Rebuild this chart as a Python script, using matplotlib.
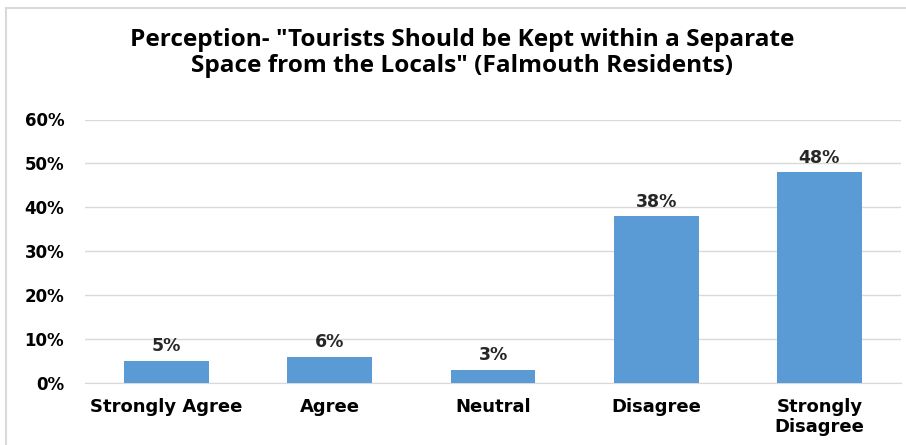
import matplotlib
matplotlib.use("Agg")
import matplotlib.pyplot as plt
from matplotlib.lines import Line2D
from matplotlib.ticker import FuncFormatter, MultipleLocator

categories = ["Strongly Agree", "Agree", "Neutral", "Disagree", "Strongly\nDisagree"]
values = [5, 6, 3, 38, 48]
title = 'Perception- "Tourists Should be Kept within a Separate\nSpace from the Locals" (Falmouth Residents)'

W, H = 906, 445
fig = plt.figure(figsize=(W / 100, H / 100), dpi=100)
fig.patch.set_facecolor("white")

# chart frame (left and top edges visible)
fig.add_artist(Line2D([6 / W, 6 / W], [0, 1 - 8 / H], transform=fig.transFigure,
                      color="#d9d9d9", lw=1.5))
fig.add_artist(Line2D([6 / W, 1.01], [1 - 8 / H, 1 - 8 / H], transform=fig.transFigure,
                      color="#d9d9d9", lw=1.5))

left, right = 85 / W, 901 / W
bottom, top = 1 - 383 / H, 1 - 119.5 / H
ax = fig.add_axes([left, bottom, right - left, top - bottom])

x = range(len(categories))
bars = ax.bar(x, values, width=0.52, color="#5b9bd5", zorder=3)
ax.set_xlim(-0.5, len(categories) - 0.5)
ax.set_ylim(0, 60)
ax.yaxis.set_major_locator(MultipleLocator(10))
ax.yaxis.set_major_formatter(FuncFormatter(lambda v, p: f"{int(v)}%"))
ax.grid(axis="y", color="#d9d9d9", lw=1, zorder=0)
for s in ax.spines.values():
    s.set_visible(False)
ax.spines["bottom"].set_visible(True)
ax.spines["bottom"].set_color("#d9d9d9")
ax.tick_params(axis="both", length=0)
ax.tick_params(axis="y", pad=15)
ax.tick_params(axis="x", pad=11)
ax.set_xticks(list(x))
ax.set_xticklabels(categories, fontsize=13, fontweight="bold", family="DejaVu Sans",
                   linespacing=1.15)
for lab in ax.get_yticklabels():
    lab.set_fontsize(12)
    lab.set_fontweight("bold")
    lab.set_family("DejaVu Sans")

for xi, v in zip(x, values):
    ax.annotate(f"{v}%", (xi, v), xytext=(0, 4), textcoords="offset points",
                ha="center", va="bottom", fontsize=12.5, fontweight="bold",
                family="DejaVu Sans", color="#262626")

fig.text(462 / W, 1 - 53 / H, title, ha="center", va="center", fontsize=17.6,
         fontweight="bold", family="Open Sans", color="#000000", linespacing=1.12)

fig.savefig("out.png", dpi=100, facecolor="white")
